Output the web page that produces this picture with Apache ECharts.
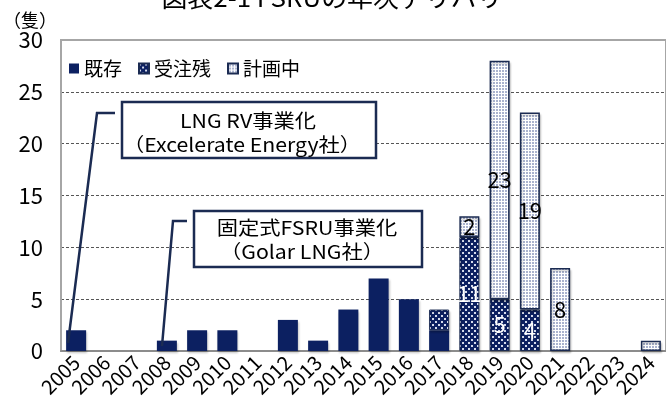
<!DOCTYPE html>
<html>
<head>
<meta charset="utf-8">
<script src="https://cdn.jsdelivr.net/npm/echarts@6/dist/echarts.min.js"></script>
<style>
  html, body { margin: 0; padding: 0; background: #fff; }
  #fsruChart { width: 666px; height: 408px; }
</style>
</head>
<body>
<div id="fsruChart"></div>
<script>
// 年次デリバリー（隻）
const years = ['2005', '2006', '2007', '2008', '2009', '2010', '2011', '2012', '2013', '2014',
  '2015', '2016', '2017', '2018', '2019', '2020', '2021', '2022', '2023', '2024']
const existing = [2, null, null, 1, 2, 2, null, 3, 1, 4, 7, 5, 2, null, null, null, null, null, null, null]
const backlog = [null, null, null, null, null, null, null, null, null, null, null, null, 2, 11, 5, 4, null, null, null, null]
const planned = [null, null, null, null, null, null, null, null, null, null, null, null, null, 2, 23, 19, 8, null, null, 1]
const labelYears = ['2018', '2019', '2020', '2021']
const yTicks = [0, 5, 10, 15, 20, 25, 30]

const navy = '#0c2061'
const lineNavy = '#1b2b52'
const narrow = "'Liberation Sans Narrow', 'Noto Sans CJK JP', sans-serif"
const jp = "'Noto Sans CJK JP', sans-serif"

function makePattern(bg, fg, size, dots, dot) {
  const c = document.createElement('canvas')
  c.width = size
  c.height = size
  const ctx = c.getContext('2d')
  ctx.fillStyle = bg
  ctx.fillRect(0, 0, size, size)
  ctx.fillStyle = fg
  dots.forEach(d => ctx.fillRect(d[0], d[1], dot, dot))
  return c
}

const backlogFill = { image: makePattern(navy, '#d6dcec', 6, [[0, 0], [3, 3]], 2), repeat: 'repeat' }
const plannedFill = { image: makePattern('#ffffff', '#aab3cf', 3, [[1, 1]], 2), repeat: 'repeat' }

const barShadow = {
  shadowColor: 'rgba(0,0,0,0.22)',
  shadowBlur: 2,
  shadowOffsetX: 1,
  shadowOffsetY: 2
}

function inLabel(color) {
  return {
    show: true,
    position: 'inside',
    color: color,
    fontSize: 22,
    fontFamily: narrow,
    formatter: p => (labelYears.includes(p.name) && p.value ? p.value : '')
  }
}

function noteText(text, x, y) {
  return {
    type: 'text',
    x: x,
    y: y,
    scaleX: 1.12,
    z: 11,
    style: { text: text, fontSize: 19, fontFamily: jp, fill: '#000', align: 'center', verticalAlign: 'middle' }
  }
}

const chart = echarts.init(document.getElementById('fsruChart'))

const option = {
  animation: false,
  backgroundColor: '#fff',
  grid: {
    left: 53,
    right: -7,
    top: 40,
    bottom: 57,
    show: true,
    borderColor: '#a6a6a6',
    borderWidth: 2,
    backgroundColor: 'transparent'
  },
  legend: {
    left: 64,
    top: 54,
    itemWidth: 10,
    itemHeight: 10,
    itemGap: 16,
    icon: 'rect',
    textStyle: { fontSize: 19, fontFamily: jp, color: '#000' },
    data: ['既存', '受注残', '計画中']
  },
  xAxis: {
    type: 'category',
    data: years,
    axisLine: { lineStyle: { color: '#8c8c8c', width: 2 } },
    axisTick: { show: false },
    axisLabel: {
      rotate: 45,
      interval: 0,
      margin: 8,
      fontSize: 20,
      fontFamily: narrow,
      color: '#000'
    }
  },
  yAxis: {
    type: 'value',
    min: yTicks[0],
    max: yTicks[yTicks.length - 1],
    interval: 5,
    name: '（隻）',
    nameLocation: 'end',
    nameGap: 6,
    nameTextStyle: { fontSize: 18, fontFamily: jp, color: '#000', align: 'right', padding: [0, 4, 0, 0] },
    axisLine: { show: true, lineStyle: { color: '#a6a6a6', width: 2 } },
    axisTick: { show: false },
    axisLabel: { fontSize: 22, fontFamily: narrow, color: '#000', margin: 18 },
    splitLine: {
      show: true,
      lineStyle: {
        type: [3, 2],
        width: 1,
        color: ['transparent', '#555', '#555', '#555', '#555', '#555', 'transparent']
      }
    }
  },
  series: [
    {
      name: '既存',
      type: 'bar',
      stack: 'total',
      barWidth: 20,
      data: existing,
      itemStyle: Object.assign({ color: navy }, barShadow)
    },
    {
      name: '受注残',
      type: 'bar',
      stack: 'total',
      barWidth: 20,
      data: backlog,
      itemStyle: Object.assign({ color: backlogFill, borderColor: lineNavy, borderWidth: 1 }, barShadow),
      label: inLabel('#ffffff')
    },
    {
      name: '計画中',
      type: 'bar',
      stack: 'total',
      barWidth: 20,
      data: planned,
      itemStyle: Object.assign({ color: plannedFill, borderColor: lineNavy, borderWidth: 1.5 }, barShadow),
      label: inLabel('#000000')
    }
  ],
  graphic: [
    // タイトル（上部が切れている）
    {
      type: 'text',
      x: 345,
      y: -2,
      scaleX: 1.08,
      style: { text: '図表2-1 FSRUの年次デリバリー', fontSize: 24, fontFamily: jp, fill: '#000', align: 'center', verticalAlign: 'middle' }
    },
    // 注記1
    {
      type: 'polyline',
      shape: { points: [[115, 113], [97, 113], [68, 343]] },
      style: { stroke: lineNavy, lineWidth: 2.5, fill: null },
      z: 10
    },
    {
      type: 'rect',
      shape: { x: 122, y: 102, width: 254, height: 56 },
      style: { fill: '#fff', stroke: lineNavy, lineWidth: 2.5 },
      z: 10
    },
    noteText('LNG RV事業化', 248, 121),
    noteText('（Excelerate Energy社）', 242, 145),
    // 注記2
    {
      type: 'polyline',
      shape: { points: [[187, 221], [173, 221], [162, 346]] },
      style: { stroke: lineNavy, lineWidth: 2.5, fill: null },
      z: 10
    },
    {
      type: 'rect',
      shape: { x: 194, y: 211, width: 228, height: 56 },
      style: { fill: '#fff', stroke: lineNavy, lineWidth: 2.5 },
      z: 10
    },
    noteText('固定式FSRU事業化', 307, 228),
    noteText('（Golar LNG社）', 302, 252)
  ]
}

chart.setOption(option)
</script>
</body>
</html>
